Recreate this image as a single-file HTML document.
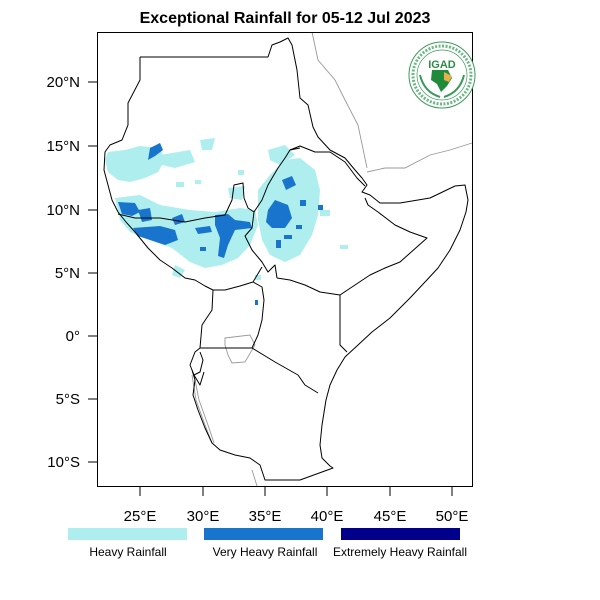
<!DOCTYPE html>
<html><head><meta charset="utf-8"><style>
html,body{margin:0;padding:0;background:#fff;}
svg{display:block;font-family:"Liberation Sans",sans-serif;}
</style></head><body>
<svg width="600" height="600" viewBox="0 0 600 600" xmlns="http://www.w3.org/2000/svg">
<rect width="600" height="600" fill="#fff"/>
<text x="285" y="23" font-size="16" font-weight="bold" text-anchor="middle">Exceptional Rainfall for 05-12 Jul 2023</text>

<g>
<!-- heavy rainfall (light) -->
<g fill="#aeeeee">
<path d="M108,152 L125,150 L140,146 L160,148 L165,160 L158,172 L145,178 L130,182 L118,180 L108,172 L105,160Z"/>
<path d="M160,155 L190,150 L195,162 L175,168 L162,165Z"/>
<path d="M115,198 L140,195 L160,205 L190,210 L215,212 L240,208 L255,210 L258,225 L250,245 L238,258 L222,265 L205,268 L190,262 L172,248 L150,240 L130,232 L120,220Z"/>
<path d="M258,190 L270,175 L285,160 L300,158 L315,170 L320,190 L318,215 L312,235 L300,255 L285,262 L270,255 L262,240 L258,220Z"/>
<path d="M268,150 L285,145 L295,155 L280,165 L270,160Z"/>
<path d="M228,188 L245,186 L242,200 L230,198Z"/>
<path d="M175,265 L185,270 L180,278 L172,275Z"/>
<path d="M200,140 L215,138 L212,150 L202,150Z"/>
<rect x="320" y="210" width="10" height="6"/><rect x="238" y="170" width="6" height="5"/>
<rect x="176" y="182" width="8" height="5"/><rect x="195" y="180" width="6" height="4"/>
<rect x="340" y="245" width="8" height="4"/><rect x="255" y="275" width="6" height="5"/>
</g>
<!-- very heavy -->
<g fill="#1874cd">
<path d="M118,202 L135,203 L140,212 L132,216 L122,214Z"/>
<path d="M138,210 L150,208 L152,220 L142,222Z"/>
<path d="M133,228 L160,226 L175,230 L178,240 L165,245 L150,240 L138,236Z"/>
<path d="M215,215 L228,214 L235,220 L250,222 L252,228 L235,230 L228,245 L224,258 L218,256 L220,238 L215,225Z"/>
<path d="M268,210 L275,200 L288,205 L292,218 L285,228 L272,228 L266,222Z"/>
<path d="M150,148 L160,143 L163,150 L155,156 L148,160Z"/>
<path d="M172,218 L182,214 L185,222 L175,225Z"/>
<path d="M195,228 L210,226 L212,232 L198,234Z"/>
<path d="M282,180 L292,176 L296,185 L286,190Z"/>
<rect x="300" y="200" width="6" height="6"/><rect x="284" y="235" width="8" height="4"/>
<rect x="276" y="240" width="5" height="8"/><rect x="318" y="205" width="5" height="5"/>
<rect x="296" y="225" width="6" height="4"/><rect x="200" y="247" width="6" height="4"/>
<rect x="255" y="300" width="3" height="5"/>
</g>
</g>

<!-- grey outlines -->
<g fill="none" stroke="#999" stroke-width="0.9">
<path d="M312,32 L318,60 L335,80 L345,100 L358,125 L367,168"/>
<path d="M367,172 L385,168 L405,168 L430,155 L450,150 L472,143"/>
<path d="M225,338 L250,335 L255,345 L245,362 L232,363 L228,355 L225,345Z"/>
<path d="M192,375 L196,400 L205,425 L212,443"/>
<path d="M194,375 L199,400 L208,425 L214,443"/>
<path d="M252,470 L257,486"/>
</g>

<!-- black borders -->
<g fill="none" stroke="#000" stroke-width="1" stroke-linejoin="round">
<path d="M140,57 L268,57 L272,45 L280,42 L288,38 L292,45 L297,70 L300,98 L308,105 L313,127 L318,137 L330,150 L345,158 L355,170 L362,178 L367,185 L362,192 L370,195 L380,203 L400,203 L430,198 L455,186 L465,185 L468,200 L466,212 L460,230 L450,250 L438,268 L425,282 L410,298 L390,318 L372,332 L358,345 L345,357 L337,370 L330,385 L326,400 L322,425 L320,445 L322,458 L330,466 L333,468 L300,480 L265,480 L260,465 L250,458 L235,455 L220,450 L212,443 L205,428 L198,410 L193,395 L195,380 L192,370"/>
<path d="M140,57 L140,80 L128,103 L128,125 L122,140 L110,145 L105,152 L104,170 L108,185 L112,200 L118,212 L126,222 L135,232 L148,248 L160,260 L172,268 L185,278 L195,280 L205,286 L213,290 L225,290 L240,286 L253,282"/>
<path d="M118,214 L135,218 L160,218 L185,222 L205,218 L225,215 L232,200 L234,185 L243,183 L244,198 L248,208 L254,212"/>
<path d="M254,212 L262,200 L268,185 L278,168 L285,158 L290,150 L300,148"/>
<path d="M290,150 L300,146 L315,152 L330,152 L345,162 L357,178 L365,186"/>
<path d="M254,212 L252,228 L245,236 L252,250 L262,262 L268,272 L275,265 L277,278"/>
<path d="M253,282 L262,267"/>
<path d="M277,278 L290,280 L305,285 L320,292 L340,295 L358,283 L370,275 L385,268 L400,262 L427,238 L410,232 L395,225 L378,212 L368,205 L365,198"/>
<path d="M340,295 L340,345 L347,352"/>
<path d="M213,290 L212,310 L202,325 L200,348 L252,348 L258,335 L262,320 L264,300 L262,287 L253,282"/>
<path d="M252,348 L275,362 L298,375 L305,385 L318,393"/>
<path d="M200,348 L195,352 L190,365 L194,375 L200,372 L203,360 L200,352"/>
<path d="M194,375 L200,385 L204,372"/>
</g>

<!-- frame -->
<rect x="97.5" y="32.5" width="375" height="454" fill="none" stroke="#000" stroke-width="1"/>
<g stroke="#000" stroke-width="1">
<line x1="140" y1="487" x2="140" y2="496"/><line x1="203" y1="487" x2="203" y2="496"/>
<line x1="265" y1="487" x2="265" y2="496"/><line x1="327" y1="487" x2="327" y2="496"/>
<line x1="390" y1="487" x2="390" y2="496"/><line x1="452" y1="487" x2="452" y2="496"/>
<line x1="88" y1="82" x2="97" y2="82"/><line x1="88" y1="146" x2="97" y2="146"/>
<line x1="88" y1="210" x2="97" y2="210"/><line x1="88" y1="273" x2="97" y2="273"/>
<line x1="88" y1="336" x2="97" y2="336"/><line x1="88" y1="399" x2="97" y2="399"/>
<line x1="88" y1="462" x2="97" y2="462"/>
</g>
<g font-size="15" text-anchor="middle">
<text x="140" y="521">25°E</text><text x="203" y="521">30°E</text><text x="265" y="521">35°E</text>
<text x="327" y="521">40°E</text><text x="390" y="521">45°E</text><text x="452" y="521">50°E</text>
</g>
<g font-size="15" text-anchor="end">
<text x="80" y="87">20°N</text><text x="80" y="151">15°N</text><text x="80" y="215">10°N</text>
<text x="80" y="278">5°N</text><text x="80" y="341">0°</text><text x="80" y="404">5°S</text>
<text x="80" y="467">10°S</text>
</g>

<!-- logo -->
<g>
<circle cx="442" cy="75" r="33" fill="#fff" stroke="#3a9a5a" stroke-width="1"/>
<circle cx="442" cy="75" r="29" fill="none" stroke="#6bb884" stroke-width="3" stroke-dasharray="2 1.5"/>
<circle cx="442" cy="75" r="25" fill="none" stroke="#3a9a5a" stroke-width="0.7"/>
<text x="442" y="68" font-size="11" font-weight="bold" fill="#2e8b4a" text-anchor="middle">IGAD</text>
<path d="M432,70 L448,70 L452,78 L447,86 L441,92 L437,84 L431,80Z" fill="#1f8a3a"/>
<path d="M444,72 L452,76 L449,82 L444,80Z" fill="#e8b04a"/>
<path d="M420,75 Q424,92 440,97" fill="none" stroke="#3a9a5a" stroke-width="2"/>
<path d="M464,75 Q460,92 444,97" fill="none" stroke="#3a9a5a" stroke-width="2"/>
</g>

<!-- legend -->
<rect x="68" y="528" width="119" height="12" fill="#aeeeee"/>
<rect x="204" y="528" width="119" height="12" fill="#1874cd"/>
<rect x="341" y="528" width="119" height="12" fill="#00008b"/>
<g font-size="12" text-anchor="middle">
<text x="128" y="556">Heavy Rainfall</text>
<text x="265" y="556">Very Heavy Rainfall</text>
<text x="400" y="556">Extremely Heavy Rainfall</text>
</g>
</svg>
</body></html>
